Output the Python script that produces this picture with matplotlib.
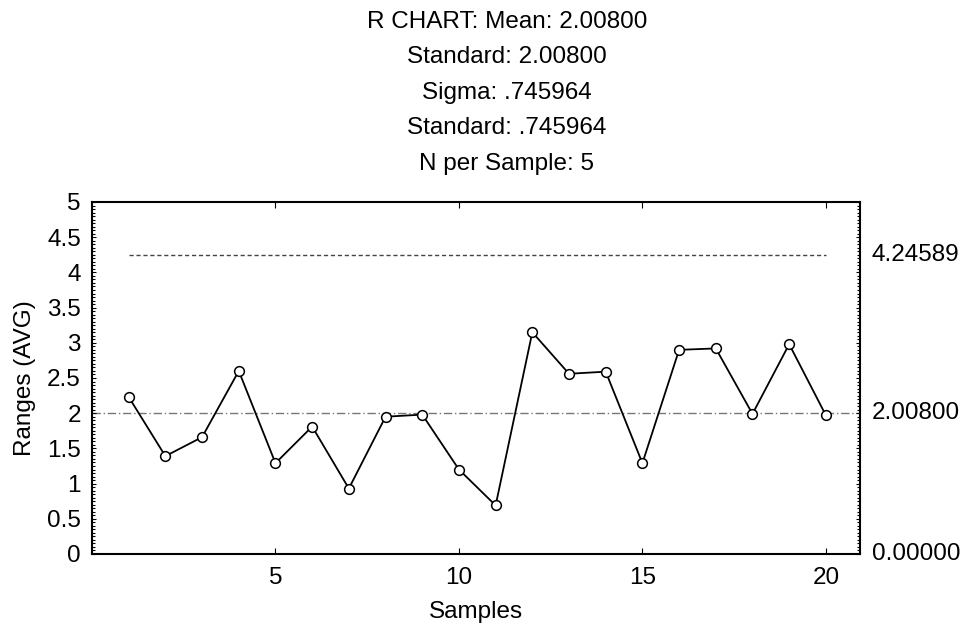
import matplotlib
matplotlib.use("Agg")
import matplotlib.pyplot as plt
from matplotlib.ticker import MultipleLocator, FixedLocator
import matplotlib.transforms as mtransforms

plt.rcParams['font.family'] = ['Liberation Sans', 'DejaVu Sans']

samples = list(range(1, 21))
ranges = [2.23, 1.39, 1.66, 2.60, 1.29, 1.81, 0.93, 1.95, 1.98, 1.20,
          0.69, 3.15, 2.56, 2.59, 1.29, 2.90, 2.92, 1.99, 2.98, 1.97]
center = 2.008
ucl = 4.24589
lcl = 0.0
title_lines = ["R CHART: Mean: 2.00800", "Standard: 2.00800", "Sigma: .745964",
               "Standard: .745964", "N per Sample: 5"]
right_labels = ["4.24589", "2.00800", "0.00000"]
right_values = [ucl, center, lcl]
xticks = [5, 10, 15, 20]
yticks = [0, 0.5, 1, 1.5, 2, 2.5, 3, 3.5, 4, 4.5, 5]
ytick_labels = ["0", "0.5", "1", "1.5", "2", "2.5", "3", "3.5", "4", "4.5", "5"]

FS = 17.5

fig = plt.figure(figsize=(9.68, 6.3), dpi=100)
fig.patch.set_facecolor('white')
ax = fig.add_axes([92/968, 1-554/630, (860-92)/968, (554-202)/630])

ax.set_xlim(0, 20.93)
ax.set_ylim(0, 5)

# control lines
ax.axhline(center, color='#777777', lw=1.0, ls=(0, (6, 2, 1, 2)), zorder=1)
ax.plot([samples[0], samples[-1]], [ucl, ucl], color='#444444', lw=1.0,
        ls=(0, (3, 2)), zorder=1)

ax.plot(samples, ranges, color='black', lw=1.3, marker='o', ms=7,
        mfc='white', mec='black', mew=1.1, zorder=3)

ax.xaxis.set_major_locator(FixedLocator(xticks))
ax.set_yticks(yticks)
ax.set_yticklabels(ytick_labels)
ax.yaxis.set_minor_locator(MultipleLocator(0.05))
ax.tick_params(axis='x', which='major', direction='in', top=True, bottom=True,
               length=4, labelsize=FS, pad=9)
ax.tick_params(axis='y', which='major', direction='in', left=True, right=True,
               length=3, labelsize=FS, pad=8)
ax.tick_params(axis='y', which='minor', direction='in', left=True, right=True,
               length=2, width=0.8)
for s in ax.spines.values():
    s.set_linewidth(1.5)
    s.set_color('black')

trans = mtransforms.blended_transform_factory(ax.transAxes, ax.transData)
for lab, v in zip(right_labels, right_values):
    ax.text(1.015, v, lab, transform=trans, ha='left', va='center', fontsize=FS)

ax.set_ylabel("Ranges (AVG)", fontsize=FS, labelpad=8)
ax.set_xlabel("Samples", fontsize=FS, labelpad=9)

for i, line in enumerate(title_lines):
    fig.text(507/968, 1 - (22 + i*35.4)/630, line, ha='center', va='center',
             fontsize=FS)

fig.savefig("out.png", dpi=100, facecolor='white')
